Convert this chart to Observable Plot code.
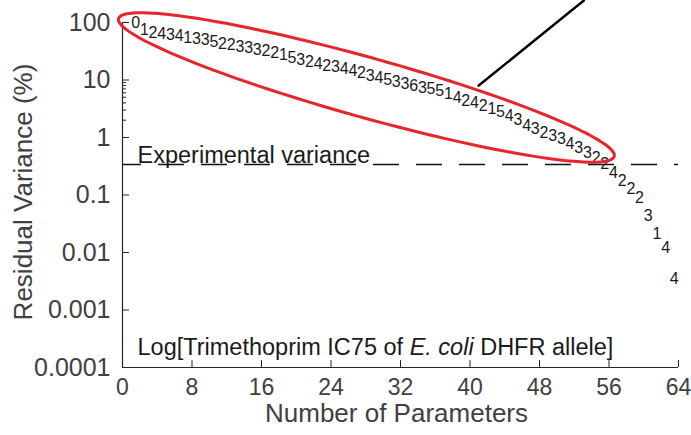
<!DOCTYPE html>
<html><head><meta charset="utf-8">
<script src="https://cdn.jsdelivr.net/npm/d3@7"></script>
<script src="https://cdn.jsdelivr.net/npm/@observablehq/plot@0.6"></script>
<style>body{margin:0;background:#fff;}</style>
</head><body><div id="chart"></div>
<script>
// Number of parameters (x) for each added term
const nParams = [1,2,3,4,5,6,7,8,9,10,11,12,13,14,15,16,17,18,19,20,21,22,23,24,25,26,27,28,29,30,31,32,33,34,35,36,37,38,39,40,41,42,43,44,45,46,47,48,49,50,51,52,53,54,55,56,57,58,59,60,61,62,63];
// Order of the term added (drawn as the digit label)
const termOrder = [0,1,2,4,3,4,1,3,3,5, 2,2,3,3,3,2,2,1,5,3, 2,4,2,3,4,4,2,3,4,5, 3,3,6,3,5,5,1,4,2,4, 2,1,5,4,3,4,3,2,3,3, 4,3,3,2,2,4,2,2,2,3, 1,4,4];
// Residual variance (%)
const residual = [100,75.6,67.0,64.4,61.8,59.4,54.8,52.7,50.6,46.7,
  43.1,41.4,38.3,36.7,33.9,32.6,30.1,27.8,24.6,22.7,
  21.0,19.4,17.9,17.2,15.8,14.6,13.5,12.0,11.05,10.2,
  9.42,8.69,8.02,7.41,7.12,6.57,5.83,4.96,4.40,4.06,
  3.60,3.19,2.83,2.41,2.06,1.62,1.43,1.22,1.08,0.96,
  0.79,0.67,0.55,0.45,0.353,0.246,0.179,0.130,0.0905,0.044,
  0.0214,0.0122,0.00353];
const experimentalVariance = 0.339;
const xTicks = [0,8,16,24,32,40,48,56,64];
const yTicks = [0.0001,0.001,0.01,0.1,1,10,100];
const yLabels = ["0.0001","0.001","0.01","0.1","1","10","100"];
const xDomain = [0,64];
const yDomain = [0.0001,100];
// annotation geometry (data units)
const ellipseTips = [{x:-0.46, y:117},{x:56.6, y:0.47}];
const ellipseHalfWidthPx = 30;
const pointer = [{x:41, y:8.0},{x:53.1, y:241}];

const W = 691, H = 435, mL = 122, mR = 13, mT = 22, mB = 68;
const xs = d3.scaleLinear(xDomain, [mL, W - mR]);
const ys = d3.scaleLog(yDomain, [H - mB, mT]);

// ellipse outline computed in screen space, converted back to data
const A = [xs(ellipseTips[0].x), ys(ellipseTips[0].y)];
const B = [xs(ellipseTips[1].x), ys(ellipseTips[1].y)];
const cx = (A[0]+B[0])/2, cy = (A[1]+B[1])/2;
const a = Math.hypot(B[0]-A[0], B[1]-A[1])/2;
const phi = Math.atan2(B[1]-A[1], B[0]-A[0]);
const ellipse = d3.range(0, 360, 3).map(d => {
  const t = d*Math.PI/180;
  const px = cx + a*Math.cos(t)*Math.cos(phi) - ellipseHalfWidthPx*Math.sin(t)*Math.sin(phi);
  const py = cy + a*Math.cos(t)*Math.sin(phi) + ellipseHalfWidthPx*Math.sin(t)*Math.cos(phi);
  return {x: xs.invert(px), y: ys.invert(py)};
});

const yMinor = d3.scaleLog(yDomain).ticks().filter(v => !yTicks.some(t => Math.abs(t - v)/t < 1e-9));
const xTickLen = Math.pow(10, 7/57.5);   // ~7px in log units
const yTickLen = xs.invert(mL + 7) - xDomain[0];
const yMinorLen = xs.invert(mL + 4) - xDomain[0];

const ink = "#262626";
const labelInk = "#404040";
const font = "'Liberation Sans', Arial, Helvetica, sans-serif";

const chart = Plot.plot({
  width: W, height: H,
  marginLeft: mL, marginRight: mR, marginTop: mT, marginBottom: mB,
  style: {fontFamily: font, fontSize: "22px", color: ink, background: "#fff", overflow: "visible"},
  x: {domain: xDomain},
  y: {type: "log", domain: yDomain},
  marks: [
    Plot.axisX(xTicks, {tickSize: 0, tickPadding: 11, label: null, fontSize: 23, fill: labelInk}),
    Plot.axisY(yTicks, {tickSize: 0, tickPadding: 12, label: null, fontSize: 25, fill: labelInk, tickFormat: d => yLabels[yTicks.indexOf(d)] ?? ""}),
    Plot.ruleX([xDomain[0]], {y1: yDomain[0], y2: yDomain[1], stroke: ink, strokeWidth: 1.2}),
    Plot.ruleY([yDomain[0]], {x1: xDomain[0], x2: xDomain[1], stroke: ink, strokeWidth: 1.2}),
    Plot.ruleY(yTicks, {x1: xDomain[0], x2: xDomain[0] + yTickLen, stroke: ink, strokeWidth: 1}),
    Plot.ruleY(yMinor, {x1: xDomain[0], x2: xDomain[0] + yMinorLen, stroke: ink, strokeWidth: 1}),
    Plot.ruleX(xTicks, {y1: yDomain[0], y2: yDomain[0]*xTickLen, stroke: ink, strokeWidth: 1}),
    Plot.ruleY([experimentalVariance], {x1: xDomain[0], x2: xDomain[1], stroke: "#111", strokeWidth: 1.3, strokeDasharray: "26,17", strokeDashoffset: 7}),
    Plot.text(["Experimental variance"], {x: 1.73, y: 0.367, text: d => d, textAnchor: "start", lineAnchor: "bottom", fontSize: 23.5, fill: "#1a1a1a"}),
    Plot.text(["Log[Trimethoprim IC75 of E. coli DHFR allele]"], {x: 1.73, y: 0.000168, text: d => d, textAnchor: "start", lineAnchor: "bottom", fontSize: 23.5, fill: "#1a1a1a"}),
    Plot.text(nParams, {x: d => d, y: (d, i) => residual[i], text: (d, i) => String(termOrder[i]), textAnchor: "start", fontSize: 16, fill: "#1a1a1a"}),
    Plot.line(ellipse, {x: "x", y: "y", stroke: "#e8252b", strokeWidth: 3, curve: "catmull-rom-closed"}),
    Plot.line(pointer, {x: "x", y: "y", stroke: "#000", strokeWidth: 2.5}),
    Plot.text(["Number of Parameters"], {frameAnchor: "bottom", dy: 54, dx: -4, textAnchor: "middle", lineAnchor: "bottom", text: d => d, fontSize: 26, fill: labelInk}),
    Plot.text(["Residual Variance (%)"], {frameAnchor: "left", dx: -91, dy: -3, rotate: -90, textAnchor: "middle", lineAnchor: "bottom", text: d => d, fontSize: 26, fill: labelInk})
  ]
});
document.getElementById("chart").appendChild(chart);

// italicise "E. coli" in the caption
const cap = Array.from(chart.querySelectorAll("text")).find(t => t.textContent === "Log[Trimethoprim IC75 of E. coli DHFR allele]");
if (cap) {
  const ns = "http://www.w3.org/2000/svg";
  while (cap.firstChild) cap.removeChild(cap.firstChild);
  const parts = [["Log[Trimethoprim IC75 of ", null], ["E. coli", "italic"], [" DHFR allele]", null]];
  for (const [s, st] of parts) {
    const t = document.createElementNS(ns, "tspan");
    if (st) t.setAttribute("font-style", st);
    t.textContent = s;
    cap.appendChild(t);
  }
}
</script>
</body></html>
